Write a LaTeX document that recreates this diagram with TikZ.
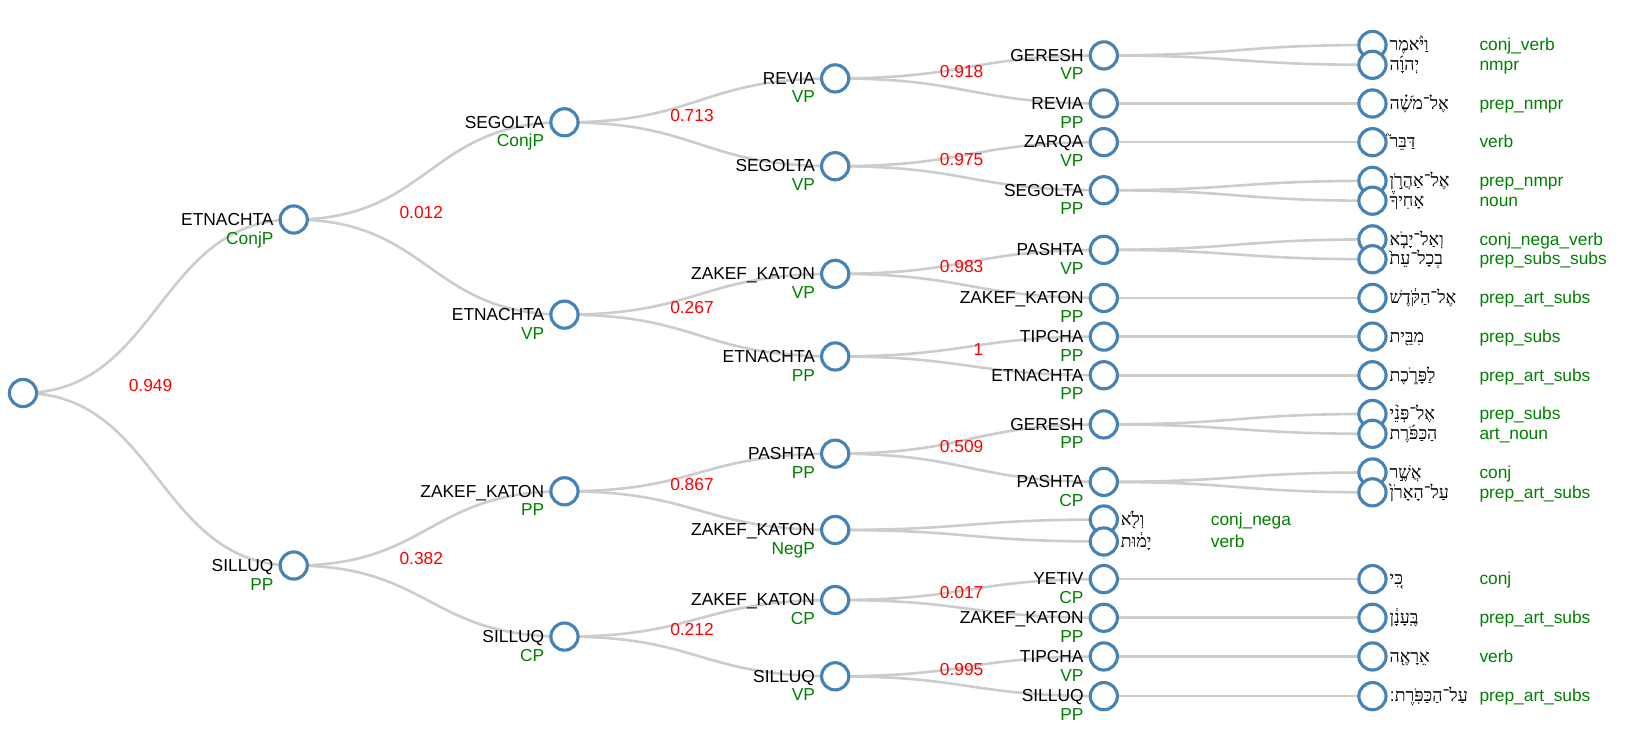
\documentclass[tikz,border=0pt]{standalone}
\usepackage{fontspec}
\setmainfont{Liberation Sans}
\newfontfamily\hebfont[Script=Hebrew]{Liberation Serif}
\newfontfamily\hebalt[Script=Hebrew]{DejaVu Sans}
\TeXXeTstate=1
\usetikzlibrary{calc,backgrounds}
\definecolor{steel}{HTML}{4682B4}
\definecolor{linkgray}{HTML}{CCCCCC}
\definecolor{phrgreen}{HTML}{008000}
\definecolor{probred}{HTML}{FF0000}
\tikzset{
 dot/.style={circle, draw=steel, fill=white, line width=1.5pt, minimum size=13pt, inner sep=0pt},
 link/.style={draw=linkgray, line width=1.25pt},
 acclabel/.style={anchor=base east, inner sep=0pt, font=\fontsize{8.3}{10}\selectfont, text=black},
 phrlabel/.style={anchor=base east, inner sep=0pt, font=\fontsize{8.3}{10}\selectfont, text=phrgreen},
 poslabel/.style={anchor=base west, inner sep=0pt, font=\fontsize{8.3}{10}\selectfont, text=phrgreen},
 heblabel/.style={anchor=base west, inner sep=0pt, font=\hebfont\fontsize{8.5}{10}\selectfont},
 problabel/.style={anchor=base, inner sep=0pt, font=\fontsize{8.3}{10}\selectfont, text=probred},
}
\newcommand\inode[5]{\node[dot] (#1) at (#2,#3) {};
 \node[acclabel] (#1-a) at (#2-19,#3+5.5) {#4};
 \node[phrlabel] (#1-p) at (#2-19,#3+23.5) {#5};}
\newcommand\lfnode[5]{\node[dot] (#1) at (#2,#3) {};
 \node[heblabel] (#1-w) at (#2+16,#3+5.5) {\beginR #4\endR};
 \node[poslabel] (#1-p) at (#2+102,#3+5.5) {#5};}
\newcommand\lnk[2]{\draw[link] let \p1=(#1.center), \p2=(#2.center) in
 (#1.center) .. controls ({(\x1+\x2)/2},\y1) and ({(\x1+\x2)/2},\y2) .. (#2.center);}
\newcommand\prb[4]{\node[problabel] (#1) at (#2,#3) {#4};}
\begin{document}
\begin{tikzpicture}[x=0.5pt,y=-0.5pt]
\useasboundingbox (0,0) rectangle (1568,698);
% nodes
\node[dot] (root) at (22,376) {};
\inode{a1}{281}{210}{ETNACHTA}{ConjP}
\inode{a2}{281}{541}{SILLUQ}{PP}
\inode{b1}{540}{117}{SEGOLTA}{ConjP}
\inode{b2}{540}{301}{ETNACHTA}{VP}
\inode{b3}{540}{470}{ZAKEF\_KATON}{PP}
\inode{b4}{540}{609}{SILLUQ}{CP}
\inode{c1}{799}{75}{REVIA}{VP}
\inode{c2}{799}{159}{SEGOLTA}{VP}
\inode{c3}{799}{262}{ZAKEF\_KATON}{VP}
\inode{c4}{799}{341}{ETNACHTA}{PP}
\inode{c5}{799}{434}{PASHTA}{PP}
\inode{c6}{799}{507}{ZAKEF\_KATON}{NegP}
\inode{c7}{799}{574}{ZAKEF\_KATON}{CP}
\inode{c8}{799}{647}{SILLUQ}{VP}
\inode{d1}{1056}{53}{GERESH}{VP}
\inode{d2}{1056}{99}{REVIA}{PP}
\inode{d3}{1056}{136}{ZARQA}{VP}
\inode{d4}{1056}{182}{SEGOLTA}{PP}
\inode{d5}{1056}{239}{PASHTA}{VP}
\inode{d6}{1056}{285}{ZAKEF\_KATON}{PP}
\inode{d7}{1056}{322}{TIPCHA}{PP}
\inode{d8}{1056}{359}{ETNACHTA}{PP}
\inode{d9}{1056}{406}{GERESH}{PP}
\inode{d10}{1056}{461}{PASHTA}{CP}
\lfnode{w13}{1056}{497}{וְלֹ֖א}{conj\_nega}
\lfnode{w14}{1056}{518}{יָמ֔וּת}{verb}
\inode{d11}{1056}{554}{YETIV}{CP}
\inode{d12}{1056}{591}{ZAKEF\_KATON}{PP}
\inode{d13}{1056}{628}{TIPCHA}{VP}
\inode{d14}{1056}{666}{SILLUQ}{PP}
\lfnode{w1}{1313}{43}{וַיֹּ֨אמֶר}{conj\_verb}
\lfnode{w2}{1313}{62}{יְהוָ֜ה}{nmpr}
\lfnode{w3}{1313}{99}{אֶל־מֹשֶׁ֗ה}{prep\_nmpr}
\lfnode{w4}{1313}{136}{דַּבֵּר֮}{verb}
\lfnode{w5}{1313}{173}{אֶל־אַהֲרֹ֣ן}{prep\_nmpr}
\lfnode{w6}{1313}{192}{אָחִיךָ֒}{noun}
\lfnode{w7}{1313}{229}{וְאַל־יָבֹ֤א}{conj\_nega\_verb}
\lfnode{w8}{1313}{248}{בְכָל־עֵת֙}{prep\_subs\_subs}
\lfnode{w9}{1313}{285}{אֶל־הַקֹּ֔דֶשׁ}{prep\_art\_subs}
\lfnode{w10}{1313}{322}{מִבֵּ֖ית}{prep\_subs}
\lfnode{w11}{1313}{359}{לַפָּרֹ֑כֶת}{prep\_art\_subs}
\lfnode{w12}{1313}{396}{אֶל־פְּנֵ֨י}{prep\_subs}
\lfnode{w12b}{1313}{415}{הַכַּפֹּ֜רֶת}{art\_noun}
\lfnode{w15}{1313}{452}{אֲשֶׁ֣ר}{conj}
\lfnode{w16}{1313}{471}{עַל־הָאָרֹן֙}{prep\_art\_subs}
\lfnode{w17}{1313}{554}{כִּ֚י}{conj}
\lfnode{w18}{1313}{591}{בֶּֽעָנָ֔ן}{prep\_art\_subs}
\lfnode{w19}{1313}{628}{אֵרָאֶ֖ה}{verb}
\lfnode{w20}{1313}{666}{עַל־הַכַּפֹּֽרֶת{\hebalt ׃}}{prep\_art\_subs}
% probabilities
\prb{p0}{144}{375}{0.949}
\prb{pa1}{403}{209}{0.012}
\prb{pa2}{403}{540}{0.382}
\prb{pb1}{662}{116}{0.713}
\prb{pb2}{662}{300}{0.267}
\prb{pb3}{662}{469}{0.867}
\prb{pb4}{662}{608}{0.212}
\prb{pc1}{920}{74}{0.918}
\prb{pc2}{920}{158}{0.975}
\prb{pc3}{920}{261}{0.983}
\prb{pc4}{936}{340}{1}
\prb{pc5}{920}{433}{0.509}
\prb{pc7}{920}{573}{0.017}
\prb{pc8}{920}{646}{0.995}
% links
\begin{pgfonlayer}{background}
\lnk{root}{a1}\lnk{root}{a2}
\lnk{a1}{b1}\lnk{a1}{b2}\lnk{a2}{b3}\lnk{a2}{b4}
\lnk{b1}{c1}\lnk{b1}{c2}\lnk{b2}{c3}\lnk{b2}{c4}
\lnk{b3}{c5}\lnk{b3}{c6}\lnk{b4}{c7}\lnk{b4}{c8}
\lnk{c1}{d1}\lnk{c1}{d2}\lnk{c2}{d3}\lnk{c2}{d4}
\lnk{c3}{d5}\lnk{c3}{d6}\lnk{c4}{d7}\lnk{c4}{d8}
\lnk{c5}{d9}\lnk{c5}{d10}\lnk{c6}{w13}\lnk{c6}{w14}
\lnk{c7}{d11}\lnk{c7}{d12}\lnk{c8}{d13}\lnk{c8}{d14}
\lnk{d1}{w1}\lnk{d1}{w2}\lnk{d2}{w3}\lnk{d3}{w4}
\lnk{d4}{w5}\lnk{d4}{w6}\lnk{d5}{w7}\lnk{d5}{w8}
\lnk{d6}{w9}\lnk{d7}{w10}\lnk{d8}{w11}
\lnk{d9}{w12}\lnk{d9}{w12b}\lnk{d10}{w15}\lnk{d10}{w16}
\lnk{d11}{w17}\lnk{d12}{w18}\lnk{d13}{w19}\lnk{d14}{w20}
\end{pgfonlayer}
\end{tikzpicture}
\end{document}
